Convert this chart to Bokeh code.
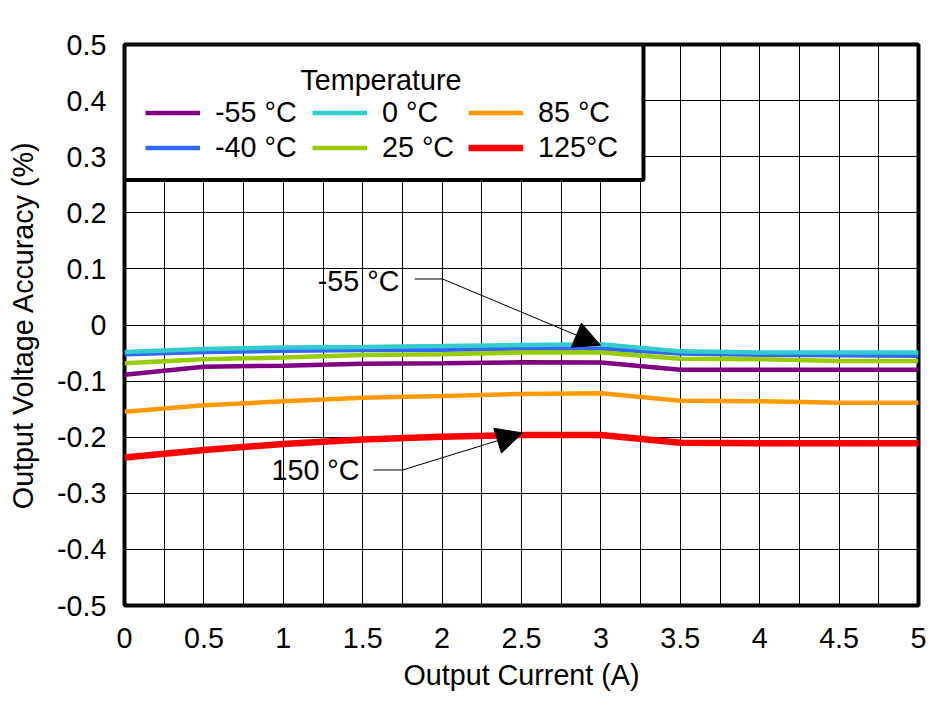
from bokeh.plotting import figure
from bokeh.models import (FixedTicker, Legend, LegendItem, BoxAnnotation, Label,
                          Arrow, NormalHead, Range1d)
from bokeh.embed import file_html
from bokeh.resources import INLINE

# ---------------- data ----------------
current = [0, 0.5, 1, 1.5, 2, 2.5, 3, 3.5, 4, 4.5, 5]
t_m55 = [-0.0885, -0.0745, -0.0725, -0.069, -0.068, -0.0665, -0.067, -0.0797, -0.0797, -0.0797, -0.0797]
t_m40 = [-0.052, -0.048, -0.046, -0.0445, -0.044, -0.042, -0.042, -0.051, -0.053, -0.054, -0.055]
t_0 = [-0.048, -0.043, -0.040, -0.039, -0.0374, -0.0357, -0.0345, -0.047, -0.049, -0.049, -0.049]
t_25 = [-0.068, -0.061, -0.058, -0.0535, -0.052, -0.049, -0.049, -0.060, -0.061, -0.064, -0.064]
t_85 = [-0.1545, -0.143, -0.136, -0.1295, -0.1266, -0.123, -0.1218, -0.135, -0.136, -0.1385, -0.1385]
t_125 = [-0.236, -0.223, -0.212, -0.204, -0.199, -0.196, -0.196, -0.210, -0.211, -0.211, -0.211]

series_labels = ["-55 °C", "-40 °C", "0 °C", "25 °C", "85 °C", "125°C"]
series_values = [t_m55, t_m40, t_0, t_25, t_85, t_125]
series_colors = ["#800080", "#3366FF", "#33CCCC", "#99CC00", "#FF9900", "#FF0000"]
series_widths = [4.5, 4.5, 4.5, 4.5, 4.5, 6.5]

x_ticks = [0, 0.5, 1, 1.5, 2, 2.5, 3, 3.5, 4, 4.5, 5]
x_tick_labels = ["0", "0.5", "1", "1.5", "2", "2.5", "3", "3.5", "4", "4.5", "5"]
x_grid = [0, 0.25, 0.5, 0.75, 1, 1.25, 1.5, 1.75, 2, 2.25, 2.5, 2.75, 3, 3.25, 3.5,
          3.75, 4, 4.25, 4.5, 4.75, 5]
y_ticks = [-0.5, -0.4, -0.3, -0.2, -0.1, 0, 0.1, 0.2, 0.3, 0.4, 0.5]
y_tick_labels = ["-0.5", "-0.4", "-0.3", "-0.2", "-0.1", "0", "0.1", "0.2", "0.3", "0.4", "0.5"]

FONT = "Liberation Sans"
FS = "28.7px"

p = figure(width=942, height=693, output_backend="svg", toolbar_location=None,
           x_range=Range1d(0, 5), y_range=Range1d(-0.5, 0.5),
           min_border_left=124, min_border_right=24, min_border_top=44, min_border_bottom=88)
p.background_fill_color = "white"
p.border_fill_color = "white"
p.outline_line_color = "black"
p.outline_line_width = 4
p.outline_line_alpha = 1

# axes
p.xaxis.ticker = FixedTicker(ticks=x_ticks)
p.xaxis.major_label_overrides = {t: s for t, s in zip(x_ticks, x_tick_labels)}
p.yaxis.ticker = FixedTicker(ticks=y_ticks)
p.yaxis.major_label_overrides = {t: s for t, s in zip(y_ticks, y_tick_labels)}
for ax in (p.xaxis[0], p.yaxis[0]):
    ax.axis_line_color = None
    ax.major_tick_line_color = None
    ax.minor_tick_line_color = None
    ax.major_label_text_font = FONT
    ax.major_label_text_font_size = FS
    ax.major_label_text_color = "black"
    ax.axis_label_text_font = FONT
    ax.axis_label_text_font_size = FS
    ax.axis_label_text_font_style = "normal"
    ax.axis_label_text_color = "black"
p.xaxis.axis_label = "Output Current (A)"
p.yaxis.axis_label = "Output Voltage Accuracy (%)"
p.xaxis.major_label_standoff = 16
p.xaxis.axis_label_standoff = 8
p.yaxis.major_label_standoff = 12
p.yaxis.axis_label_standoff = 15

# grid
p.xgrid.ticker = FixedTicker(ticks=x_grid)
p.ygrid.ticker = FixedTicker(ticks=y_ticks)
for g in (p.xgrid[0], p.ygrid[0]):
    g.grid_line_color = "black"
    g.grid_line_alpha = 1
    g.grid_line_width = 1

# series
renderers = []
for lab, vals, col, w in zip(series_labels, series_values, series_colors, series_widths):
    r = p.line(current, vals, line_color=col, line_width=w)
    renderers.append(r)

# annotations (leader lines with arrows)
p.segment(x0=[1.826, 1.568], y0=[0.082, -0.2585], x1=[2.003, 1.751], y1=[0.082, -0.2585],
          line_color="black", line_width=1)
p.add_layout(Arrow(end=NormalHead(size=26, fill_color="black", line_color="black"),
                   x_start=2.003, y_start=0.082, x_end=2.997, y_end=-0.036,
                   line_color="black", line_width=1))
p.add_layout(Arrow(end=NormalHead(size=26, fill_color="black", line_color="black"),
                   x_start=1.751, y_start=-0.2585, x_end=2.506, y_end=-0.1925,
                   line_color="black", line_width=1))
p.add_layout(Label(x=1.474, y=0.079, text="-55 °C", text_align="center", text_baseline="middle",
                   text_font=FONT, text_font_size=FS, text_color="black"))
p.add_layout(Label(x=1.203, y=-0.2585, text="150 °C", text_align="center", text_baseline="middle",
                   text_font=FONT, text_font_size=FS, text_color="black"))

# legend box
p.add_layout(BoxAnnotation(left=0, right=3.268, top=0.5, bottom=0.2585,
                           fill_color="white", fill_alpha=1,
                           line_color="black", line_width=4, line_alpha=1))
p.add_layout(Label(x=1.615, y=0.4367, text="Temperature", text_align="center",
                   text_baseline="middle", text_font=FONT, text_font_size=FS, text_color="black"))

# one legend per column (two rows each)
col_offsets = [0, 167, 323]
for ci, xo in enumerate(col_offsets):
    idx = [2 * ci, 2 * ci + 1]
    lg = Legend(items=[LegendItem(label=series_labels[i], renderers=[renderers[i]]) for i in idx],
                location=(xo, 419), orientation="vertical",
                padding=21, margin=0, spacing=0,
                glyph_width=55, glyph_height=35, label_height=35, label_standoff=15,
                label_text_font=FONT, label_text_font_size=FS, label_text_color="black",
                background_fill_alpha=0, border_line_alpha=0, border_line_width=0)
    p.add_layout(lg)

open("out.html", "w").write(file_html(p, INLINE))
